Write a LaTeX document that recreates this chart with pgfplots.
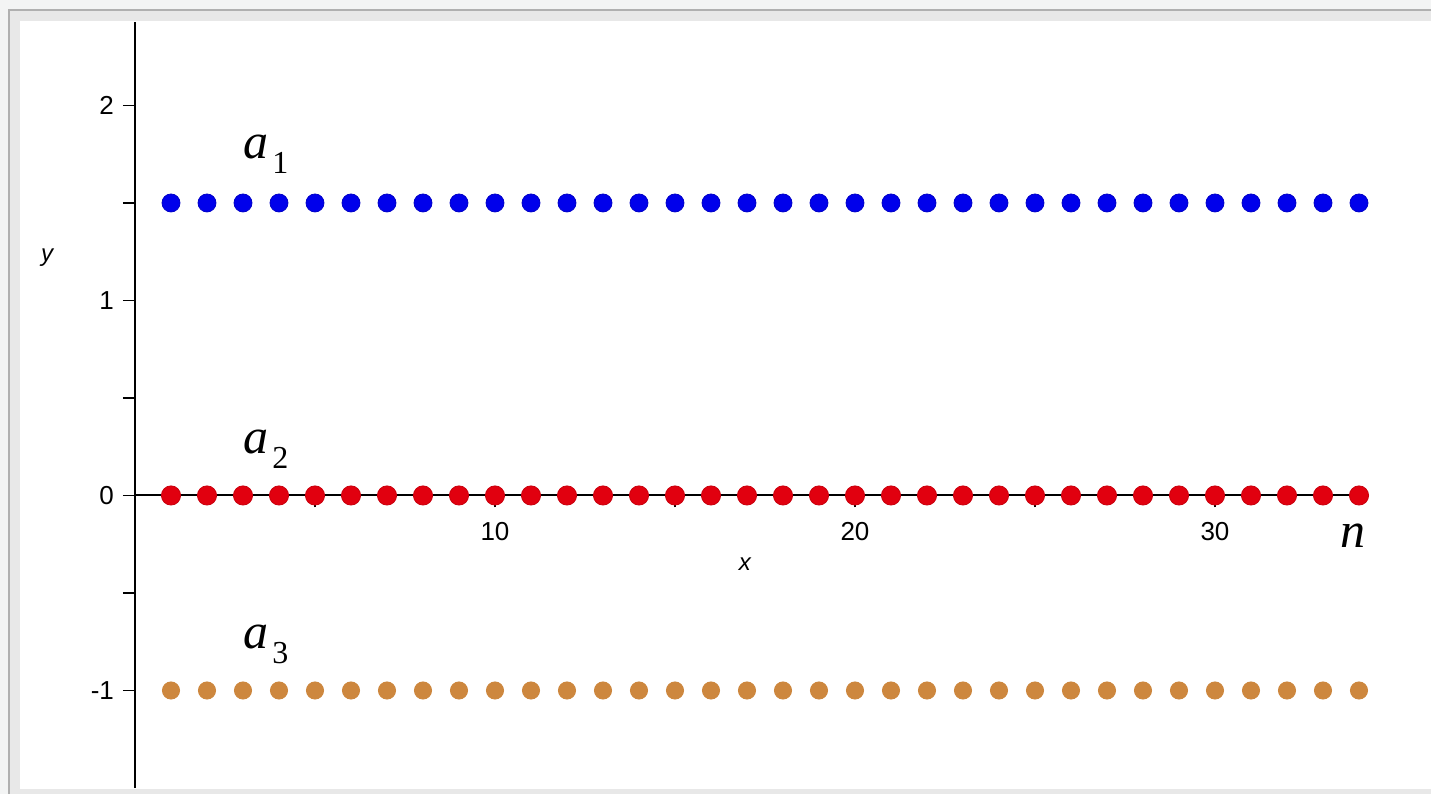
\documentclass[border=0pt]{standalone}
\usepackage{fontspec}
\setmainfont{Liberation Serif}
\setsansfont{Liberation Sans}
\usepackage{pgfplots}
\usepackage{pgfplotstable}
\pgfplotsset{compat=1.18}

\definecolor{outerbg}{HTML}{F3F4F4}
\definecolor{bandbg}{HTML}{E8E8E8}
\definecolor{borderc}{HTML}{B0B0B0}
\definecolor{dotblue}{RGB}{0,0,235}
\definecolor{dotred}{RGB}{225,0,15}
\definecolor{dotbrown}{RGB}{205,135,62}

% the three constant sequences a_1, a_2, a_3 for n = 1..34
\pgfplotstableread{
n  a1   a2  a3
1  1.5  0  -1
2  1.5  0  -1
3  1.5  0  -1
4  1.5  0  -1
5  1.5  0  -1
6  1.5  0  -1
7  1.5  0  -1
8  1.5  0  -1
9  1.5  0  -1
10 1.5  0  -1
11 1.5  0  -1
12 1.5  0  -1
13 1.5  0  -1
14 1.5  0  -1
15 1.5  0  -1
16 1.5  0  -1
17 1.5  0  -1
18 1.5  0  -1
19 1.5  0  -1
20 1.5  0  -1
21 1.5  0  -1
22 1.5  0  -1
23 1.5  0  -1
24 1.5  0  -1
25 1.5  0  -1
26 1.5  0  -1
27 1.5  0  -1
28 1.5  0  -1
29 1.5  0  -1
30 1.5  0  -1
31 1.5  0  -1
32 1.5  0  -1
33 1.5  0  -1
34 1.5  0  -1
}\seqdata

\newcommand{\seqlabel}[2]{\fontsize{25}{28}\selectfont\itshape #1\hspace{2pt}\raisebox{-7.5pt}{\fontsize{16}{19}\selectfont\upshape #2}}

\begin{document}
\begin{tikzpicture}
\useasboundingbox (0,0) rectangle (715.5pt,397pt);
\fill[outerbg] (0,0) rectangle (715.5pt,397pt);
\fill[bandbg] (4.5pt,0) rectangle (715.5pt,392pt);
\draw[borderc, line width=0.6pt] (4.5pt,0) -- (4.5pt,392pt) -- (715.5pt,392pt);
\fill[white] (10pt,2.5pt) rectangle (715.5pt,386.5pt);
\begin{axis}[
  at={(67.5pt,3pt)}, anchor=south west,
  scale only axis,
  width=612pt, height=383.2pt,
  xmin=0, xmax=34, ymin=-1.5, ymax=2.43,
  axis x line=middle,
  axis y line=left,
  axis line style={black, line width=1pt, -},
  axis on top,
  clip=false,
  xtick={10,20,30},
  minor xtick={5,15,25},
  ytick={-1,0,1,2},
  minor ytick={-0.5,0.5,1.5},
  tick align=outside,
  major tick length=6pt,
  minor tick length=6pt,
  tick style={black, line width=0.7pt},
  /pgf/number format/assume math mode=true,
  ticklabel style={font=\sffamily\fontsize{13}{15}\selectfont},
  yticklabel style={xshift=-1pt},
  xticklabel style={yshift=-4pt},
]
\addplot[only marks, mark=*, mark size=4.5pt, dotblue, mark options={draw=dotblue!85!black, line width=0.4pt, fill=dotblue}] table[x=n, y=a1] {\seqdata};
\addplot[only marks, mark=*, mark size=4.8pt, dotred, mark options={draw=dotred!90!black, line width=0.4pt, fill=dotred}] table[x=n, y=a2] {\seqdata};
\addplot[only marks, mark=*, mark size=4.3pt, dotbrown, mark options={draw=dotbrown, fill=dotbrown}] table[x=n, y=a3] {\seqdata};

\node[anchor=base west, inner sep=0pt] at (axis cs:3.0,1.728) {\seqlabel{a}{1}};
\node[anchor=base west, inner sep=0pt] at (axis cs:3.0,0.215) {\seqlabel{a}{2}};
\node[anchor=base west, inner sep=0pt] at (axis cs:3.0,-0.785) {\seqlabel{a}{3}};
\node[anchor=base west, inner sep=0pt] at (axis cs:33.47,-0.267) {\fontsize{25}{28}\selectfont\itshape n};

\node[inner sep=0pt, font=\sffamily\itshape\fontsize{12}{14}\selectfont] at (axis cs:-2.44,1.22) {y};
\node[inner sep=0pt, font=\sffamily\itshape\fontsize{12}{14}\selectfont] at (axis cs:16.94,-0.35) {x};
\end{axis}
\end{tikzpicture}
\end{document}
